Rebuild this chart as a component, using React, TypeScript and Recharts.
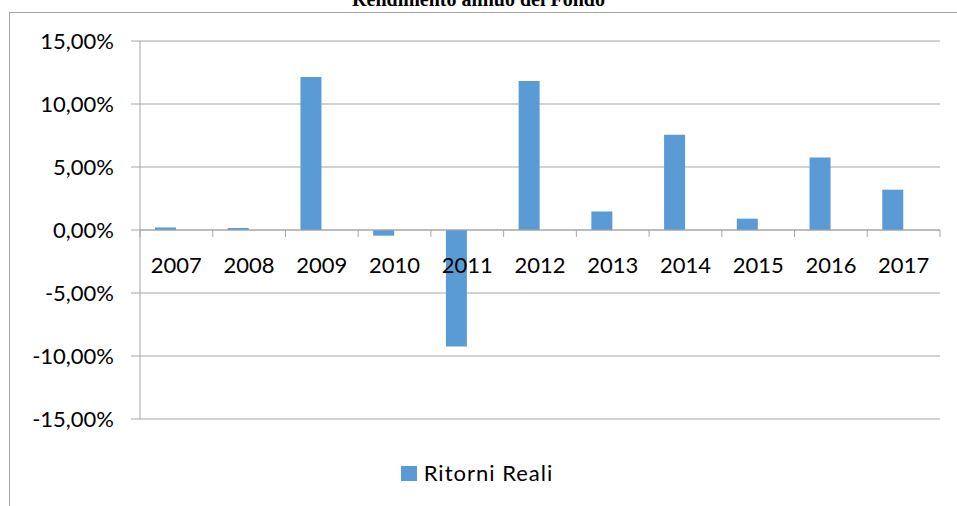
import React from "react";
import {
  BarChart,
  Bar,
  XAxis,
  YAxis,
  CartesianGrid,
  Legend,
  ReferenceLine,
} from "recharts";

const years: string[] = ["2007", "2008", "2009", "2010", "2011", "2012", "2013", "2014", "2015", "2016", "2017"];
const ritorniReali: number[] = [0.2, 0.16, 12.15, -0.45, -9.25, 11.83, 1.47, 7.55, 0.9, 5.75, 3.2];
const yTicks: number[] = [-15, -10, -5, 0, 5, 10, 15];
const seriesName = "Ritorni Reali";
const title = "Rendimento annuo del Fondo";

const data = years.map((y, i) => ({ year: y, value: ritorniReali[i], empty: null }));

const FONT = "Lato, 'Open Sans', sans-serif";
const GRID = "#A6A6A6";
const BLUE = "#5B9BD5";

const fmt = (v: number) => v.toFixed(2).replace(".", ",") + "%";

// distance from plot bottom to zero line (symmetric domain => half the plot height)
const HALF_PLOT = 189;

const XTick = (props: any) => {
  const { x, y, payload, index, width, visibleTicksCount } = props;
  const zeroY = y - HALF_PLOT;
  const band = width / visibleTicksCount;
  const left = x - band / 2;
  const right = x + band / 2;
  return (
    <g>
      <line x1={left} y1={zeroY} x2={left} y2={zeroY + 7} stroke={GRID} strokeWidth={1} />
      {index === visibleTicksCount - 1 && (
        <line x1={right} y1={zeroY} x2={right} y2={zeroY + 7} stroke={GRID} strokeWidth={1} />
      )}
      <text x={x} y={zeroY + 43} textAnchor="middle" fontFamily={FONT} fontSize={22} fill="#000">
        {payload.value}
      </text>
    </g>
  );
};

const LegendContent = () => (
  <div
    style={{
      display: "flex",
      justifyContent: "center",
      alignItems: "center",
      height: 20,
      fontFamily: FONT,
      fontSize: 22,
      color: "#000",
      paddingLeft: 14,
    }}
  >
    <span style={{ display: "inline-block", width: 16, height: 15, background: BLUE, marginRight: 7 }} />
    <span style={{ lineHeight: "20px", letterSpacing: 1 }}>{seriesName}</span>
  </div>
);

export default function App() {
  return (
    <div
      style={{
        position: "absolute",
        left: 0,
        top: 0,
        width: 957,
        height: 506,
        overflow: "hidden",
        background: "#fff",
      }}
    >
      <div
        style={{
          position: "absolute",
          left: 9,
          top: 12,
          width: 1000,
          height: 600,
          border: `1px solid ${GRID}`,
          boxSizing: "border-box",
        }}
      />
      <div
        style={{
          position: "absolute",
          left: 0,
          width: 957,
          top: -13,
          textAlign: "center",
          fontFamily: "'Liberation Serif', 'DejaVu Serif', serif",
          fontWeight: "bold",
          fontSize: 20,
          lineHeight: "24px",
          color: "#000",
        }}
      >
        {title}
      </div>
      <div style={{ position: "absolute", left: 0, top: 0 }}>
        <BarChart
          width={957}
          height={506}
          data={data}
          margin={{ top: 41, right: 17, bottom: 23, left: 0 }}
          barGap={0}
          barSize={21}
        >
          <CartesianGrid horizontal={true} vertical={false} stroke={GRID} strokeWidth={1} />
          <XAxis
            dataKey="year"
            height={44}
            axisLine={false}
            tickLine={false}
            tickSize={0}
            tickMargin={0}
            interval={0}
            tick={<XTick />}
          />
          <YAxis
            width={140}
            domain={[-15, 15]}
            ticks={yTicks}
            tickFormatter={fmt}
            axisLine={{ stroke: GRID }}
            tickLine={{ stroke: GRID }}
            tickSize={9}
            tickMargin={17}
            tick={{ fontFamily: FONT, fontSize: 22, fill: "#000" }}
            interval={0}
          />
          <ReferenceLine y={0} stroke={GRID} strokeWidth={1} />
          <Legend verticalAlign="bottom" height={20} content={<LegendContent />} />
          <Bar dataKey="value" name={seriesName} fill={BLUE} isAnimationActive={false} />
          <Bar dataKey="empty" legendType="none" fill={BLUE} isAnimationActive={false} />
        </BarChart>
      </div>
    </div>
  );
}
